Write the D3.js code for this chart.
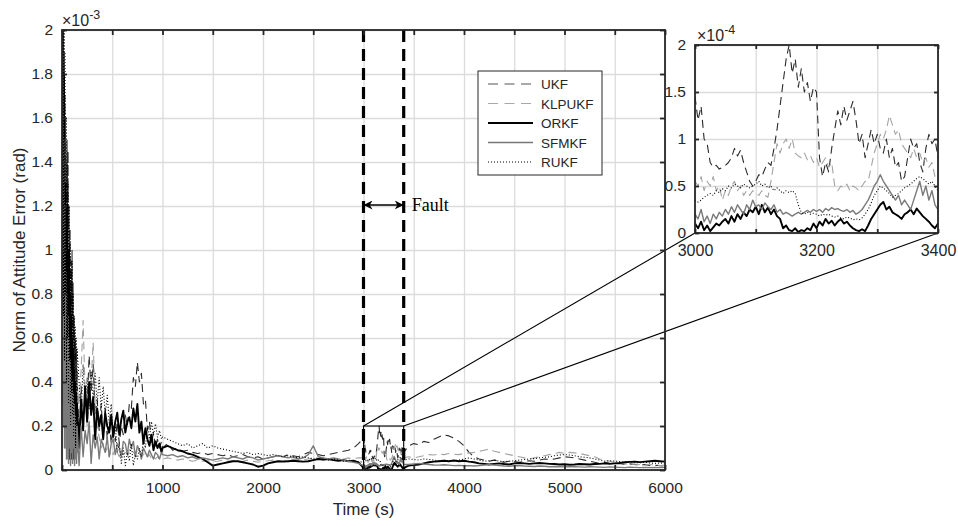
<!DOCTYPE html>
<html>
<head>
<meta charset="utf-8">
<script src="https://cdn.jsdelivr.net/npm/d3@7"></script>
<style>
  body { margin: 0; background: #fff; }
  svg { display: block; }
  text { font-family: "Liberation Sans", Arial, Helvetica, sans-serif; fill: #262626; }
</style>
</head>
<body>
<svg id="chart" width="958" height="527"></svg>
<script>
// ---------------- data ----------------
// Filter names (legend order)
const filters = ["UKF", "KLPUKF", "ORKF", "SFMKF", "RUKF"];

// Sample times (s) for the full run; the fault window 3000–3400 s is sampled finer below
const timeMain = [
  ...d3.range(0, 151, 5),      // start-up transient
  ...d3.range(170, 991, 20),
  ...d3.range(1000, 2951, 50),
  ...d3.range(3450, 6001, 50)
];
const timeZoom = d3.range(3000, 3401, 5);

// Attitude error norm, units of 1e-3 rad, on timeMain
const ukfMain = [
  2.6,1.2,2.3,0.6,1.9,0.4,1.7,0.5,1.3,0.3, 1.5,0.2,1.45,0.4,1.2,0.15,1.1,0.3,0.95,0.2, 1.0,0.1,0.85,0.35,0.7,0.15,0.6,0.2,0.55,0.1, 0.45,
  0.12,0.38,0.2,0.35,0.28,0.52,0.35,0.48,0.25,0.32, 0.18,0.3,0.15,0.28,0.14,0.22,0.12,0.2,0.13,0.22, 0.12,0.2,0.16,0.25,0.2,0.3,0.28,0.42,0.38,0.49, 0.4,0.44,0.3,0.32,0.18,0.22,0.12,0.17,0.1,0.14, 0.1,0.13,
  0.1,0.12,0.09,0.1,0.085,0.09,0.08,0.075,0.08,0.07, 0.075,0.07,0.065,0.07,0.06,0.065,0.07,0.06,0.055,0.06, 0.05,0.055,0.06,0.065,0.06,0.07,0.065,0.06,0.07,0.08, 0.075,0.07,0.065,0.07,0.075,0.08,0.085,0.09,0.1,0.12,
  0.11,0.12,0.115,0.13,0.125,0.14,0.15,0.16,0.155,0.145, 0.13,0.11,0.08,0.06,0.05,0.045,0.04,0.045,0.04,0.035, 0.04,0.038,0.035,0.04,0.042,0.04,0.045,0.05,0.048,0.05, 0.055,0.06,0.058,0.055,0.05,0.045,0.04,0.035,0.03,0.035, 0.03,0.028,0.03,0.025,0.028,0.025,0.022,0.025,0.02,0.022, 0.02,0.018
];
const klpukfMain = [
  2.2,0.8,2.4,0.5,1.7,0.3,1.4,0.6,1.2,0.2, 1.0,0.4,1.1,0.15,0.9,0.3,0.8,0.1,0.75,0.25, 0.65,0.1,0.6,0.3,0.55,0.1,0.5,0.2,0.45,0.12, 0.4,
  0.3,0.45,0.68,0.35,0.2,0.3,0.4,0.58,0.3,0.2, 0.15,0.1,0.12,0.08,0.1,0.06,0.09,0.07,0.1,0.08, 0.06,0.09,0.07,0.08,0.06,0.09,0.1,0.08,0.07,0.09, 0.08,0.06,0.07,0.08,0.06,0.07,0.05,0.06,0.05,0.06, 0.05,0.055,
  0.05,0.055,0.05,0.045,0.05,0.045,0.04,0.045,0.04,0.042, 0.038,0.04,0.045,0.04,0.042,0.038,0.04,0.045,0.04,0.035, 0.04,0.042,0.045,0.04,0.042,0.045,0.05,0.045,0.048,0.05, 0.055,0.05,0.045,0.048,0.05,0.052,0.05,0.055,0.052,0.055,
  0.06,0.055,0.06,0.065,0.07,0.068,0.072,0.07,0.075,0.072, 0.07,0.075,0.078,0.08,0.085,0.09,0.095,0.085,0.08,0.075, 0.07,0.065,0.06,0.055,0.05,0.055,0.06,0.065,0.07,0.075, 0.08,0.075,0.08,0.078,0.075,0.07,0.065,0.06,0.05,0.045, 0.04,0.035,0.03,0.028,0.025,0.027,0.024,0.022,0.025,0.023, 0.02,0.022
];
const orkfMain = [
  2.4,0.6,2.2,0.4,1.8,0.2,1.3,0.3,1.1,0.1, 1.2,0.15,0.9,0.05,1.0,0.1,0.8,0.05,0.7,0.1, 0.6,0.05,0.55,0.15,0.45,0.05,0.4,0.1,0.35,0.08, 0.3,
  0.1,0.32,0.18,0.38,0.22,0.4,0.25,0.33,0.14,0.28, 0.2,0.25,0.14,0.26,0.2,0.17,0.25,0.15,0.22,0.26, 0.16,0.23,0.27,0.17,0.22,0.24,0.19,0.28,0.22,0.3, 0.17,0.22,0.12,0.19,0.14,0.11,0.16,0.09,0.13,0.1, 0.12,0.08,
  0.1,0.11,0.1,0.09,0.085,0.075,0.07,0.06,0.05,0.035, 0.02,0.025,0.03,0.035,0.04,0.04,0.035,0.03,0.025,0.015, 0.02,0.03,0.035,0.04,0.038,0.04,0.042,0.04,0.038,0.04, 0.045,0.05,0.048,0.05,0.045,0.042,0.045,0.04,0.042,0.035,
  0.02,0.022,0.025,0.03,0.035,0.038,0.04,0.042,0.04,0.043, 0.04,0.042,0.038,0.035,0.03,0.028,0.025,0.028,0.03,0.027, 0.025,0.03,0.032,0.03,0.028,0.03,0.032,0.03,0.028,0.027, 0.025,0.026,0.024,0.025,0.027,0.026,0.025,0.027,0.028,0.03, 0.028,0.03,0.032,0.035,0.037,0.038,0.036,0.038,0.04,0.042, 0.04,0.038
];
const sfmkfMain = [
  1.8,0.3,2.0,0.2,1.5,0.1,1.2,0.2,0.9,0.05, 0.8,0.1,0.7,0.03,0.6,0.1,0.5,0.02,0.45,0.08, 0.4,0.03,0.35,0.1,0.3,0.02,0.25,0.06,0.22,0.03, 0.2,
  0.02,0.2,0.06,0.18,0.12,0.22,0.03,0.16,0.1,0.15, 0.05,0.14,0.11,0.08,0.15,0.06,0.12,0.14,0.07,0.12, 0.1,0.06,0.13,0.12,0.07,0.14,0.1,0.13,0.06,0.11, 0.09,0.05,0.1,0.08,0.06,0.09,0.07,0.05,0.08,0.07, 0.05,0.08,
  0.07,0.065,0.07,0.06,0.065,0.055,0.06,0.05,0.055,0.05, 0.045,0.05,0.055,0.05,0.06,0.055,0.05,0.06,0.055,0.045, 0.05,0.055,0.06,0.065,0.06,0.055,0.06,0.05,0.055,0.07, 0.11,0.06,0.055,0.05,0.055,0.05,0.045,0.04,0.035,0.03,
  0.025,0.028,0.03,0.027,0.025,0.023,0.022,0.024,0.022,0.02, 0.021,0.019,0.02,0.018,0.02,0.022,0.025,0.022,0.02,0.018, 0.017,0.019,0.02,0.018,0.017,0.016,0.018,0.017,0.015,0.016, 0.015,0.014,0.016,0.015,0.014,0.013,0.015,0.014,0.013,0.012, 0.014,0.013,0.012,0.011,0.013,0.012,0.011,0.012,0.011,0.012, 0.011,0.012
];
const rukfMain = [
  2.5,0.9,2.6,0.7,2.2,0.5,1.9,0.8,1.6,0.4, 1.4,0.6,1.3,0.3,1.2,0.5,1.05,0.2,0.9,0.35, 0.95,0.25,0.8,0.15,0.7,0.3,0.65,0.1,0.6,0.2, 0.55,
  0.4,0.25,0.48,0.3,0.42,0.28,0.45,0.32,0.44,0.3, 0.42,0.28,0.38,0.25,0.34,0.22,0.3,0.15,0.2,0.08, 0.12,0.03,0.1,0.02,0.08,0.04,0.12,0.02,0.07,0.05, 0.1,0.06,0.14,0.1,0.2,0.14,0.22,0.16,0.21,0.15, 0.18,0.14,
  0.15,0.14,0.13,0.12,0.11,0.12,0.1,0.11,0.12,0.1, 0.11,0.1,0.095,0.09,0.085,0.08,0.075,0.08,0.07,0.075, 0.07,0.065,0.07,0.065,0.06,0.065,0.06,0.055,0.06,0.055, 0.05,0.055,0.05,0.045,0.05,0.045,0.04,0.045,0.04,0.038,
  0.05,0.048,0.045,0.05,0.048,0.045,0.042,0.045,0.04,0.042, 0.045,0.05,0.055,0.05,0.045,0.04,0.042,0.045,0.04,0.038, 0.04,0.042,0.045,0.048,0.05,0.052,0.055,0.058,0.06,0.065, 0.068,0.07,0.068,0.065,0.06,0.058,0.055,0.05,0.045,0.04, 0.042,0.04,0.038,0.035,0.037,0.035,0.033,0.035,0.032,0.03, 0.032,0.03
];

// Fault window 3000–3400 s, units of 1e-4 rad, on timeZoom
const ukfZoom = [
  1.45,1.2,1.35,1.0,0.95,0.75,0.7,0.72,0.68,0.7,
  0.72,0.75,0.8,0.9,0.82,0.88,0.75,0.65,0.55,0.5,
  0.55,0.62,0.6,0.68,0.75,0.72,0.9,1.1,1.35,1.6,
  1.85,2.0,1.7,1.85,1.55,1.75,1.5,1.6,1.4,1.55,
  1.5,0.8,0.6,0.75,0.65,0.9,1.1,1.3,1.15,1.35,
  1.2,1.3,1.4,1.2,0.95,1.05,0.8,0.95,1.1,0.95,
  1.05,0.9,0.85,1.0,0.8,0.9,0.7,0.75,0.55,0.6,
  0.8,1.0,0.9,0.95,0.75,0.65,0.9,1.05,0.95,1.0,
  0.8
];
const klpukfZoom = [
  0.55,0.5,0.6,0.45,0.55,0.5,0.6,0.45,0.5,0.35,
  0.45,0.4,0.5,0.55,0.45,0.5,0.4,0.45,0.4,0.45,
  0.42,0.4,0.45,0.4,0.38,0.55,0.75,0.95,0.85,0.95,
  1.0,0.9,1.0,0.85,0.82,0.8,0.85,0.78,0.82,0.75,
  0.8,0.7,0.75,0.8,0.7,0.75,0.5,0.45,0.5,0.48,
  0.52,0.45,0.5,0.48,0.45,0.5,0.55,0.55,0.7,0.85,
  0.95,1.05,1.0,1.1,1.25,1.15,1.05,1.1,0.95,0.9,
  0.85,0.8,0.9,0.8,0.85,0.75,0.8,0.7,0.75,0.6,
  0.55
];
const orkfZoom = [
  0.1,0.05,0.12,0.03,0.08,0.02,0.06,0.1,0.08,0.12,
  0.15,0.1,0.18,0.12,0.2,0.15,0.22,0.18,0.25,0.22,
  0.28,0.2,0.3,0.22,0.27,0.2,0.25,0.18,0.15,0.05,
  0.08,0.03,0.02,0.05,0.01,0.03,0.02,0.05,0.03,0.1,
  0.05,0.12,0.08,0.15,0.1,0.13,0.08,0.12,0.15,0.1,
  0.12,0.08,0.05,0.03,0.02,0.04,0.02,0.08,0.15,0.2,
  0.25,0.3,0.33,0.25,0.28,0.22,0.2,0.18,0.15,0.2,
  0.22,0.25,0.2,0.26,0.22,0.18,0.15,0.12,0.08,0.05,
  0.1
];
const sfmkfZoom = [
  0.2,0.15,0.25,0.12,0.18,0.1,0.2,0.15,0.22,0.18,
  0.25,0.2,0.28,0.22,0.3,0.25,0.2,0.3,0.25,0.35,
  0.28,0.3,0.25,0.32,0.28,0.25,0.3,0.22,0.25,0.2,
  0.22,0.2,0.18,0.2,0.22,0.2,0.22,0.24,0.22,0.25,
  0.23,0.25,0.22,0.26,0.24,0.27,0.25,0.26,0.24,0.23,
  0.25,0.22,0.24,0.2,0.22,0.25,0.3,0.35,0.42,0.5,
  0.55,0.62,0.55,0.5,0.45,0.4,0.35,0.4,0.3,0.35,
  0.3,0.25,0.35,0.45,0.55,0.4,0.5,0.35,0.45,0.3,
  0.25
];
const rukfZoom = [
  0.35,0.33,0.35,0.38,0.4,0.42,0.4,0.45,0.43,0.47,
  0.45,0.5,0.48,0.52,0.5,0.48,0.52,0.5,0.48,0.5,
  0.52,0.55,0.5,0.52,0.48,0.5,0.45,0.48,0.45,0.42,
  0.45,0.43,0.45,0.42,0.3,0.22,0.2,0.22,0.2,0.21,
  0.2,0.18,0.2,0.19,0.2,0.18,0.17,0.18,0.16,0.15,
  0.17,0.16,0.14,0.15,0.14,0.16,0.2,0.25,0.32,0.4,
  0.45,0.5,0.48,0.45,0.42,0.38,0.4,0.42,0.45,0.48,
  0.5,0.52,0.55,0.58,0.6,0.58,0.55,0.52,0.55,0.5,
  0.45
];

// Tick values
const mainXTicks = d3.range(0, 6001, 500);
const mainXLabels = [1000, 2000, 3000, 4000, 5000, 6000];
const mainYTicks = [0, 0.2, 0.4, 0.6, 0.8, 1, 1.2, 1.4, 1.6, 1.8, 2];
const zoomXTicks = [3000, 3100, 3200, 3300, 3400];
const zoomXLabels = [3000, 3200, 3400];
const zoomYTicks = [0, 0.5, 1, 1.5, 2];

// Fault interval (s)
const faultStart = 3000, faultEnd = 3400;

// ---------------- styles ----------------
const styles = {
  UKF:    { color: "#2b2b2b", width: 1.1, dash: "8,5" },
  KLPUKF: { color: "#a3a3a3", width: 1.1, dash: "8,5" },
  ORKF:   { color: "#000000", width: 1.9, dash: null },
  SFMKF:  { color: "#7a7a7a", width: 1.4, dash: null },
  RUKF:   { color: "#000000", width: 1.1, dash: "1,2" }
};
const mainValues = { UKF: ukfMain, KLPUKF: klpukfMain, ORKF: orkfMain, SFMKF: sfmkfMain, RUKF: rukfMain };
const zoomValues = { UKF: ukfZoom, KLPUKF: klpukfZoom, ORKF: orkfZoom, SFMKF: sfmkfZoom, RUKF: rukfZoom };

// ---------------- layout ----------------
const svg = d3.select("#chart");
const axisColor = "#262626";
const gridColor = "#dcdcdc";

const M = { left: 62, right: 665, top: 30, bottom: 470 };
const Z = { left: 695, right: 938, top: 45, bottom: 233 };

const x = d3.scaleLinear().domain([0, 6000]).range([M.left, M.right]);
const y = d3.scaleLinear().domain([0, 2]).range([M.bottom, M.top]);          // ×1e-3
const xz = d3.scaleLinear().domain([3000, 3400]).range([Z.left, Z.right]);
const yz = d3.scaleLinear().domain([0, 2]).range([Z.bottom, Z.top]);         // ×1e-4

const fmt = d => String(+(+d).toFixed(1));

// Series for the full run: coarse samples plus the fine fault window (converted to 1e-3)
function mainSeries(name) {
  const pts = timeMain.map((t, i) => [t, mainValues[name][i]]);
  timeZoom.forEach((t, i) => pts.push([t, zoomValues[name][i] / 10]));
  return pts.sort((a, b) => a[0] - b[0]);
}
function zoomSeries(name) {
  return timeZoom.map((t, i) => [t, zoomValues[name][i]]);
}

const defs = svg.append("defs");
defs.append("clipPath").attr("id", "clipMain").append("rect")
  .attr("x", M.left).attr("y", M.top).attr("width", M.right - M.left).attr("height", M.bottom - M.top);
defs.append("clipPath").attr("id", "clipZoom").append("rect")
  .attr("x", Z.left).attr("y", Z.top).attr("width", Z.right - Z.left).attr("height", Z.bottom - Z.top);
const marker = defs.append("marker").attr("id", "arrowHead")
  .attr("viewBox", "0 0 10 10").attr("refX", 10).attr("refY", 5)
  .attr("markerWidth", 9).attr("markerHeight", 9).attr("markerUnits", "userSpaceOnUse")
  .attr("orient", "auto-start-reverse");
marker.append("path").attr("d", "M0,0 L10,5 L0,10 L3,5 Z").attr("fill", "#000");

// ---------------- main axes ----------------
const gMain = svg.append("g");

// grid
gMain.append("g").attr("transform", `translate(0,${M.bottom})`)
  .call(d3.axisBottom(x).tickValues(mainXTicks).tickSize(-(M.bottom - M.top)).tickFormat(""))
  .call(g => g.select(".domain").remove())
  .call(g => g.selectAll("line").attr("stroke", gridColor).attr("stroke-width", 1.3));
gMain.append("g").attr("transform", `translate(${M.left},0)`)
  .call(d3.axisLeft(y).tickValues(mainYTicks).tickSize(-(M.right - M.left)).tickFormat(""))
  .call(g => g.select(".domain").remove())
  .call(g => g.selectAll("line").attr("stroke", gridColor).attr("stroke-width", 1.3));

// data
const line = d3.line().x(d => x(d[0])).y(d => y(d[1]));
const gData = gMain.append("g").attr("clip-path", "url(#clipMain)");
filters.forEach(name => {
  const s = styles[name];
  gData.append("path").datum(mainSeries(name))
    .attr("d", line).attr("fill", "none")
    .attr("stroke", s.color).attr("stroke-width", s.width)
    .attr("stroke-dasharray", s.dash).attr("stroke-linejoin", "round");
});

// fault markers
[faultStart, faultEnd].forEach(t => {
  gMain.append("line")
    .attr("x1", x(t)).attr("x2", x(t)).attr("y1", M.top).attr("y2", M.bottom)
    .attr("stroke", "#000").attr("stroke-width", 3.2).attr("stroke-dasharray", "12,7");
});
const arrowY = 205;
gMain.append("line")
  .attr("x1", x(faultStart)).attr("x2", x(faultEnd)).attr("y1", arrowY).attr("y2", arrowY)
  .attr("stroke", "#000").attr("stroke-width", 1.6)
  .attr("marker-start", "url(#arrowHead)").attr("marker-end", "url(#arrowHead)");
gMain.append("text").text("Fault")
  .attr("x", x(faultEnd) + 8).attr("y", arrowY + 6)
  .style("font-family", '"Liberation Serif", "Times New Roman", serif')
  .style("font-size", "18px").style("fill", "#000");

// zoom window outline and connectors
gMain.append("rect")
  .attr("x", x(faultStart)).attr("y", y(0.2))
  .attr("width", x(faultEnd) - x(faultStart)).attr("height", y(0) - y(0.2))
  .attr("fill", "none").attr("stroke", "#000").attr("stroke-width", 1.1);
gMain.append("line").attr("x1", x(faultStart)).attr("y1", y(0.2)).attr("x2", Z.left).attr("y2", Z.bottom)
  .attr("stroke", "#000").attr("stroke-width", 1.1);
gMain.append("line").attr("x1", x(faultEnd)).attr("y1", y(0.2)).attr("x2", Z.right).attr("y2", Z.bottom)
  .attr("stroke", "#000").attr("stroke-width", 1.1);

// axes with inward ticks on all four sides
function styleAxis(g, fontSize) {
  g.select(".domain").remove();
  g.selectAll(".tick line").attr("stroke", axisColor).attr("stroke-width", 1.8);
  g.selectAll(".tick text").style("font-size", fontSize + "px").attr("fill", axisColor)
    .style("font-family", '"Liberation Sans", Arial, sans-serif');
}
gMain.append("g").attr("transform", `translate(0,${M.bottom})`)
  .call(d3.axisBottom(x).tickValues(mainXTicks).tickSizeInner(-5).tickSizeOuter(0).tickPadding(12)
    .tickFormat(d => mainXLabels.includes(d) ? d : ""))
  .call(g => styleAxis(g, 15.5));
gMain.append("g").attr("transform", `translate(0,${M.top})`)
  .call(d3.axisTop(x).tickValues(mainXTicks).tickSizeInner(-5).tickSizeOuter(0).tickFormat(""))
  .call(g => styleAxis(g, 15));
gMain.append("g").attr("transform", `translate(${M.left},0)`)
  .call(d3.axisLeft(y).tickValues(mainYTicks).tickSizeInner(-5).tickSizeOuter(0).tickPadding(9).tickFormat(fmt))
  .call(g => styleAxis(g, 15.5));
gMain.append("g").attr("transform", `translate(${M.right},0)`)
  .call(d3.axisRight(y).tickValues(mainYTicks).tickSizeInner(-5).tickSizeOuter(0).tickFormat(""))
  .call(g => styleAxis(g, 15));
gMain.append("rect")
  .attr("x", M.left).attr("y", M.top).attr("width", M.right - M.left).attr("height", M.bottom - M.top)
  .attr("fill", "none").attr("stroke", axisColor).attr("stroke-width", 1.8);

// exponent
const expMain = gMain.append("text").attr("x", M.left).attr("y", 26).style("font-size", "16px");
expMain.append("tspan").text("\u00d710");
expMain.append("tspan").text("-3").attr("dy", -7).style("font-size", "12.5px");

// axis labels
gMain.append("text").text("Time (s)")
  .attr("x", (M.left + M.right) / 2).attr("y", 515)
  .attr("text-anchor", "middle").style("font-size", "17px");
gMain.append("text").text("Norm of Attitude Error (rad)")
  .attr("transform", `translate(25,${(M.top + M.bottom) / 2}) rotate(-90)`)
  .attr("text-anchor", "middle").style("font-size", "17px");

// legend
const legend = gMain.append("g");
legend.append("rect").attr("x", 478).attr("y", 71).attr("width", 124).attr("height", 104)
  .attr("fill", "#fff").attr("stroke", axisColor).attr("stroke-width", 1);
const legendStyles = {
  UKF:    { color: "#555555", width: 1.2, dash: "10,6.5" },
  KLPUKF: { color: "#a8a8a8", width: 1.2, dash: "10,6.5" },
  ORKF:   { color: "#000000", width: 2, dash: null },
  SFMKF:  { color: "#777777", width: 1.5, dash: null },
  RUKF:   { color: "#000000", width: 1, dash: "1,2" }
};
filters.forEach((name, i) => {
  const ly = 84 + i * 19.5;
  const s = legendStyles[name];
  legend.append("line").attr("x1", 488).attr("x2", 533).attr("y1", ly).attr("y2", ly)
    .attr("stroke", s.color).attr("stroke-width", s.width).attr("stroke-dasharray", s.dash);
  legend.append("text").text(name).attr("x", 541).attr("y", ly + 5).style("font-size", "13.5px")
    .attr("fill", "#000");
});

// ---------------- inset: fault window ----------------
const gZoom = svg.append("g");
gZoom.append("rect").attr("x", Z.left).attr("y", Z.top)
  .attr("width", Z.right - Z.left).attr("height", Z.bottom - Z.top).attr("fill", "#fff");
gZoom.append("g").attr("transform", `translate(0,${Z.bottom})`)
  .call(d3.axisBottom(xz).tickValues(zoomXTicks).tickSize(-(Z.bottom - Z.top)).tickFormat(""))
  .call(g => g.select(".domain").remove())
  .call(g => g.selectAll("line").attr("stroke", gridColor).attr("stroke-width", 1.3));
gZoom.append("g").attr("transform", `translate(${Z.left},0)`)
  .call(d3.axisLeft(yz).tickValues(zoomYTicks).tickSize(-(Z.right - Z.left)).tickFormat(""))
  .call(g => g.select(".domain").remove())
  .call(g => g.selectAll("line").attr("stroke", gridColor).attr("stroke-width", 1.3));

const lineZ = d3.line().x(d => xz(d[0])).y(d => yz(d[1]));
const gZData = gZoom.append("g").attr("clip-path", "url(#clipZoom)");
filters.forEach(name => {
  const s = styles[name];
  gZData.append("path").datum(zoomSeries(name))
    .attr("d", lineZ).attr("fill", "none")
    .attr("stroke", s.color).attr("stroke-width", s.width)
    .attr("stroke-dasharray", s.dash).attr("stroke-linejoin", "round");
});

gZoom.append("g").attr("transform", `translate(0,${Z.bottom})`)
  .call(d3.axisBottom(xz).tickValues(zoomXTicks).tickSizeInner(-4).tickSizeOuter(0).tickPadding(12)
    .tickFormat(d => zoomXLabels.includes(d) ? d : ""))
  .call(g => styleAxis(g, 16));
gZoom.append("g").attr("transform", `translate(0,${Z.top})`)
  .call(d3.axisTop(xz).tickValues(zoomXTicks).tickSizeInner(-4).tickSizeOuter(0).tickFormat(""))
  .call(g => styleAxis(g, 15));
gZoom.append("g").attr("transform", `translate(${Z.left},0)`)
  .call(d3.axisLeft(yz).tickValues(zoomYTicks).tickSizeInner(-4).tickSizeOuter(0).tickPadding(9).tickFormat(fmt))
  .call(g => styleAxis(g, 15.5));
gZoom.append("g").attr("transform", `translate(${Z.right},0)`)
  .call(d3.axisRight(yz).tickValues(zoomYTicks).tickSizeInner(-4).tickSizeOuter(0).tickFormat(""))
  .call(g => styleAxis(g, 15));
gZoom.append("rect")
  .attr("x", Z.left).attr("y", Z.top).attr("width", Z.right - Z.left).attr("height", Z.bottom - Z.top)
  .attr("fill", "none").attr("stroke", axisColor).attr("stroke-width", 1.8);

const expZoom = gZoom.append("text").attr("x", Z.left + 2).attr("y", 41).style("font-size", "16px");
expZoom.append("tspan").text("\u00d710");
expZoom.append("tspan").text("-4").attr("dy", -7).style("font-size", "12.5px");
</script>
</body>
</html>
